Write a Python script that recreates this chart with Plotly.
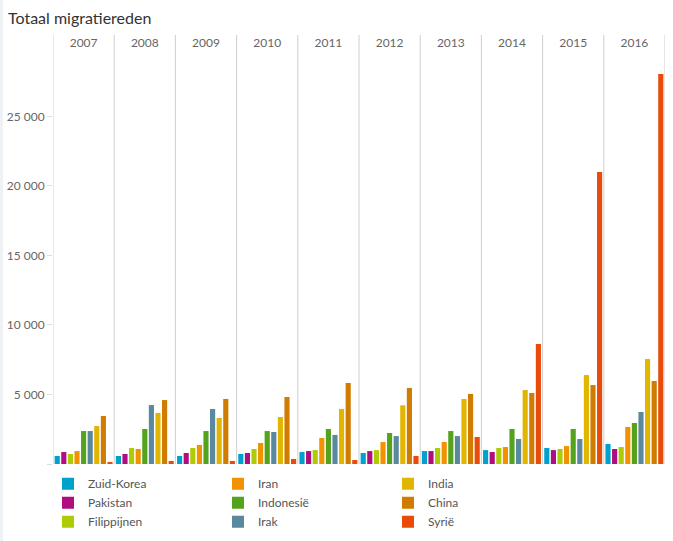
import plotly.graph_objects as go

years = ["2007", "2008", "2009", "2010", "2011", "2012", "2013", "2014", "2015", "2016"]

zuid_korea  = [575, 575, 575, 720, 860, 790, 930, 1000, 1150, 1440]
pakistan    = [860, 720, 790, 790, 930, 930, 930, 860, 1000, 1080]
filippijnen = [720, 1150, 1150, 1080, 1000, 1000, 1150, 1150, 1080, 1220]
iran        = [930, 1080, 1370, 1510, 1870, 1580, 1580, 1220, 1290, 2660]
indonesie   = [2370, 2520, 2370, 2370, 2520, 2230, 2370, 2520, 2520, 2950]
irak        = [2370, 4240, 3960, 2300, 2090, 2010, 2010, 1800, 1800, 3740]
india       = [2730, 3670, 3310, 3380, 3960, 4220, 4680, 5320, 6400, 7550]
china       = [3450, 4600, 4680, 4820, 5830, 5470, 5040, 5110, 5680, 5970]
syrie       = [140, 215, 215, 360, 290, 580, 1940, 8630, 21000, 28050]

series = [
    ("Zuid-Korea", zuid_korea, "#00a1cd", 1),
    ("Pakistan", pakistan, "#af0e80", 4),
    ("Filippijnen", filippijnen, "#afcb05", 7),
    ("Iran", iran, "#f39200", 2),
    ("Indonesië", indonesie, "#53a31d", 5),
    ("Irak", irak, "#5a889e", 8),
    ("India", india, "#e2b500", 3),
    ("China", china, "#d07c00", 6),
    ("Syrië", syrie, "#e94c0a", 9),
]

tick_vals = [0, 5000, 10000, 15000, 20000, 25000]
tick_text = ["", "5 000", "10 000", "15 000", "20 000", "25 000"]

fig = go.Figure()
for name, vals, color, rank in series:
    fig.add_trace(go.Bar(
        x=years, y=vals, name=name, marker=dict(color=color, line=dict(width=0)),
        legendrank=rank, hoverinfo="skip",
    ))

shapes = []
for i in range(len(years) + 1):
    shapes.append(dict(type="line", xref="x", yref="paper", x0=i - 0.5, x1=i - 0.5,
                       y0=0, y1=1.062, line=dict(color="#cfcfcf", width=1), layer="below"))
shapes.append(dict(type="rect", xref="paper", yref="paper", x0=-53 / 612, x1=-50 / 612,
                   y0=-77 / 404, y1=1 + 60 / 404, fillcolor="#eef2f5", line=dict(width=0)))

fig.update_layout(
    width=673, height=541,
    margin=dict(l=53, r=8, t=60, b=77, autoexpand=False),
    paper_bgcolor="white", plot_bgcolor="white",
    font=dict(family="Lato", color="#666666", size=12),
    title=dict(text="Totaal migratiereden", x=8 / 673, xref="container", xanchor="left",
               y=1 - 18 / 541, yref="container", yanchor="middle",
               font=dict(size=16, color="#333333", family="Lato"), automargin=False),
    barmode="group", bargap=0.03, bargroupgap=0.22,
    showlegend=True,
    legend=dict(orientation="h", x=(48 - 53) / 612, xanchor="left", y=-0.013, yanchor="top",
                entrywidth=125, traceorder="normal",
                font=dict(size=12, color="#555555"), itemclick=False),
    shapes=shapes,
)
fig.update_xaxes(type="category", side="top", range=[-0.5, 9.5], showgrid=False,
                 showline=False, zeroline=False, ticks="outside", ticklen=7,
                 tickcolor="rgba(0,0,0,0)", tickfont=dict(size=12, color="#666666"),
                 fixedrange=True, automargin=False)
fig.update_yaxes(range=[0, 29060], tickmode="array", tickvals=tick_vals, ticktext=tick_text,
                 showgrid=False, zeroline=False, showline=False, ticks="outside", ticklen=5,
                 tickcolor="#dddddd", tickfont=dict(size=12, color="#666666"), fixedrange=True,
                 automargin=False)

fig.write_html("out.html", config={"displayModeBar": False},
               post_script="document.body.style.margin='0';document.body.style.overflow='hidden';")
